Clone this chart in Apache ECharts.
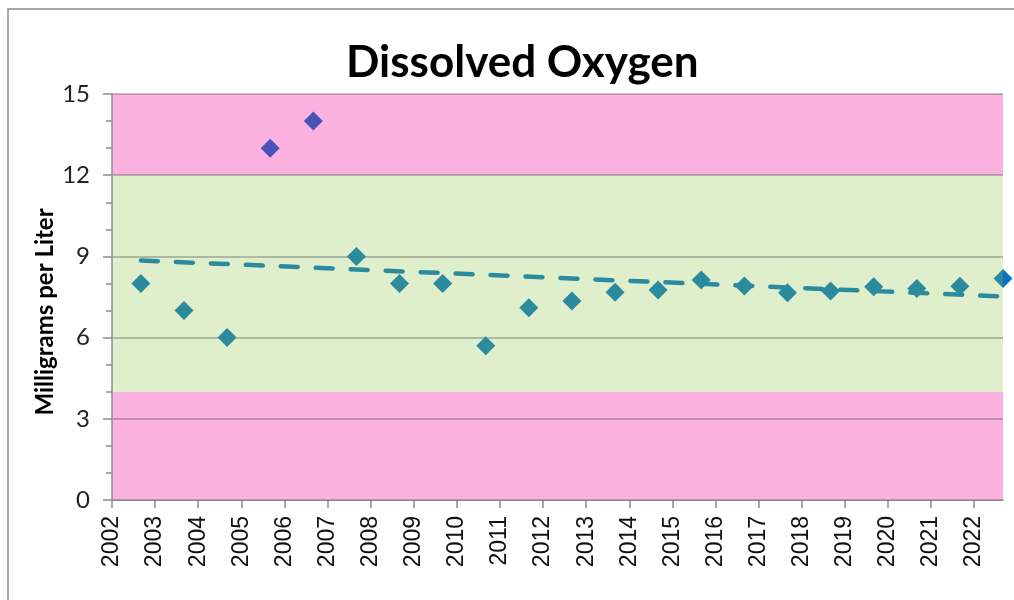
<!DOCTYPE html>
<html>
<head>
<meta charset="utf-8">
<script src="https://cdn.jsdelivr.net/npm/echarts@6/dist/echarts.min.js"></script>
<style>html,body{margin:0;padding:0;background:#fff}#c{width:1014px;height:600px}</style>
</head>
<body>
<div id="c"></div>
<script>
// Data
const years = [2002.67,2003.67,2004.67,2005.67,2006.67,2007.67,2008.67,2009.67,2010.67,2011.67,2012.67,2013.67,2014.67,2015.67,2016.67,2017.67,2018.67,2019.67,2020.67,2021.67,2022.67];
const oxygen = [8,7,6,13,14,9,8,8,5.7,7.1,7.35,7.68,7.76,8.13,7.91,7.66,7.72,7.88,7.81,7.9,8.18];
const highlightYears = [2005.67,2006.67];
const trendYears = [2002.67,2022.67];
const trendValues = [8.85,7.52];
const bands = [[0,4,'low'],[4,12,'ok'],[12,15,'high']];
const xMin = 2002, xMax = 2022.67;
const yTicks = [0,3,6,9,12,15];

const teal = '#2B8A9E', purple = '#4B52B8', pink = '#FCB2E1', green = '#DFEFCC';
const font = 'Lato, "Open Sans", sans-serif';

const normalPts = [], highPts = [], lastPts = [];
years.forEach((y,i)=>{
  if (highlightYears.includes(y)) highPts.push([y, oxygen[i]]);
  else if (i === years.length-1) lastPts.push([y, oxygen[i]]);
  else normalPts.push([y, oxygen[i]]);
});

const chart = echarts.init(document.getElementById('c'), null, {renderer:'canvas'});
chart.setOption({
  animation:false,
  backgroundColor:'#fff',
  graphic:[
    {type:'polyline', shape:{points:[[8,600],[8,9],[1014,9]]}, style:{stroke:'#8c8c8c', lineWidth:1.5, fill:null}, silent:true},
    {type:'text', x:45, y:312, rotation:Math.PI/2, silent:true,
      style:{text:'Milligrams per Liter', fontFamily:font, fontWeight:'bold', fontSize:24, fill:'#000', align:'center', verticalAlign:'middle'}}
  ],
  title:{text:'Dissolved Oxygen', left:341, top:36, textStyle:{fontFamily:font, fontWeight:'bold', fontSize:44, color:'#000'}},
  grid:{left:112, right:11, top:94, bottom:100, containLabel:false},
  xAxis:{type:'value', min:xMin, max:xMax, interval:1,
    axisLine:{show:true, lineStyle:{color:'#8c8c8c', width:1.5}},
    axisTick:{show:true, length:8, lineStyle:{color:'#8c8c8c', width:1.5}},
    axisLabel:{rotate:90, fontFamily:'"Liberation Sans", Arial, sans-serif', fontSize:23, color:'#111', margin:16,
      formatter:v=>Number.isInteger(v)?String(v):'' , showMaxLabel:false},
    splitLine:{show:false}},
  yAxis:{type:'value', min:yTicks[0], max:yTicks[yTicks.length-1], interval:3, z:2,
    axisLine:{show:true, lineStyle:{color:'#8c8c8c', width:1.5}},
    axisTick:{show:true, length:9, lineStyle:{color:'#8c8c8c', width:1.5}},
    minorTick:{show:true, splitNumber:3, length:6, lineStyle:{color:'#8c8c8c', width:1.5}},
    axisLabel:{fontFamily:font, fontSize:24, color:'#222', margin:22},
    splitLine:{show:true, lineStyle:{color:'rgba(60,60,60,0.3)', width:2}}},
  series:[
    {type:'scatter', data:[], z:1, silent:true,
      markArea:{silent:true, z:1, data: bands.map(b=>[
        {yAxis:b[0], itemStyle:{color: b[2]==='ok'?green:pink, opacity:1}},
        {yAxis:b[1]}
      ])}},
    {type:'line', data: trendYears.map((y,i)=>[y, trendValues[i]]), z:3, symbol:'none',
      lineStyle:{color:teal, width:4.5, type:[17,18], cap:'round'}},
    {type:'scatter', data: normalPts, symbol:'diamond', symbolSize:19, z:4, itemStyle:{color:teal, opacity:1}},
    {type:'scatter', data: highPts, symbol:'diamond', symbolSize:19, z:4, itemStyle:{color:purple, opacity:1}},
    {type:'scatter', data: lastPts, symbol:'diamond', symbolSize:19, z:4, clip:false,
      itemStyle:{opacity:1, color:new echarts.graphic.LinearGradient(0,0,1,0,[{offset:0,color:teal},{offset:0.5,color:teal},{offset:0.5,color:'#0A70C4'},{offset:1,color:'#0A70C4'}])}}
  ]
});
</script>
</body>
</html>
